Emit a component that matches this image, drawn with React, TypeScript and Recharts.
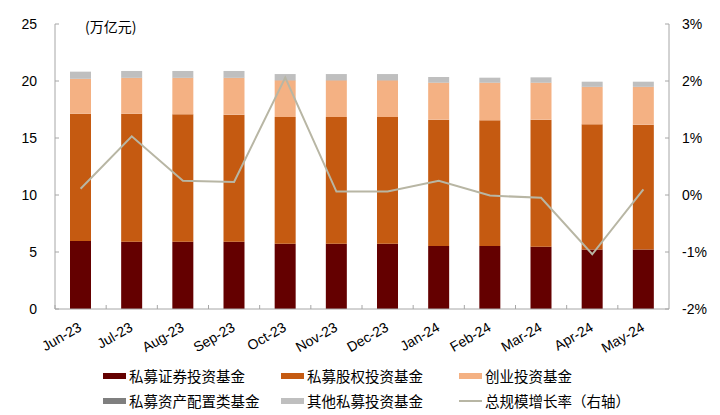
import React from "react";
import {
  ComposedChart,
  Bar,
  Line,
  XAxis,
  YAxis,
  Legend,
} from "recharts";

// ---------------------------------------------------------------------------
// Data (万亿元 / %)
// ---------------------------------------------------------------------------

const months = [
  "Jun-23", "Jul-23", "Aug-23", "Sep-23", "Oct-23", "Nov-23",
  "Dec-23", "Jan-24", "Feb-24", "Mar-24", "Apr-24", "May-24",
];

const securities = [5.96, 5.9, 5.9, 5.9, 5.73, 5.73, 5.73, 5.53, 5.53, 5.47, 5.23, 5.23];
const equity = [11.17, 11.23, 11.18, 11.15, 11.11, 11.11, 11.11, 11.08, 11.02, 11.14, 10.97, 10.94];
const venture = [3.05, 3.13, 3.18, 3.21, 3.22, 3.22, 3.22, 3.24, 3.3, 3.24, 3.27, 3.3];
const assetAlloc = [0.02, 0.02, 0.02, 0.02, 0.02, 0.02, 0.02, 0.02, 0.02, 0.02, 0.02, 0.02];
const other = [0.62, 0.6, 0.6, 0.6, 0.53, 0.53, 0.53, 0.48, 0.42, 0.45, 0.45, 0.45];
const growth = [0.11, 1.03, 0.25, 0.23, 2.06, 0.06, 0.06, 0.25, -0.01, -0.05, -1.04, 0.1];

const leftTicks = [0, 5, 10, 15, 20, 25];
const rightTicks = [-2, -1, 0, 1, 2, 3];

const data = months.map((m, i) => ({
  month: m,
  securities: securities[i],
  equity: equity[i],
  venture: venture[i],
  assetAlloc: assetAlloc[i],
  other: other[i],
  growth: growth[i],
}));

// ---------------------------------------------------------------------------
// Layout / styles
// ---------------------------------------------------------------------------

const W = 720;
const H = 415;
const LEFT_W = 55;
const RIGHT_W = 51;
const HALF_BAND = (W - LEFT_W - RIGHT_W) / months.length / 2;

const AXIS_COLOR = "#a6a6a6";
const LATIN = '"Liberation Sans", Arial, sans-serif';
const CJK = '"Noto Sans CJK SC", "Noto Sans", sans-serif';

const COLORS = {
  securities: "#640000",
  equity: "#c55a11",
  venture: "#f4b183",
  assetAlloc: "#7f7f7f",
  other: "#bfbfbf",
  growth: "#b8b6a4",
};

const legendItems = [
  { key: "securities", label: "私募证券投资基金", type: "rect" },
  { key: "equity", label: "私募股权投资基金", type: "rect" },
  { key: "venture", label: "创业投资基金", type: "rect" },
  { key: "assetAlloc", label: "私募资产配置类基金", type: "rect" },
  { key: "other", label: "其他私募投资基金", type: "rect" },
  { key: "growth", label: "总规模增长率（右轴）", type: "line" },
] as const;

// ---------------------------------------------------------------------------
// Custom pieces
// ---------------------------------------------------------------------------

function MonthTick(props: any) {
  const { x, y, payload } = props;
  const tx = x + 2;
  const ty = y + 21;
  return (
    <g>
      <line
        x1={x - HALF_BAND}
        x2={x - HALF_BAND}
        y1={y}
        y2={y - 4}
        stroke={AXIS_COLOR}
      />
      <text
        x={tx}
        y={ty}
        textAnchor="end"
        fontSize={14}
        fontFamily={LATIN}
        fill="#000"
        transform={`rotate(-30, ${tx}, ${ty})`}
      >
        {payload.value}
      </text>
    </g>
  );
}

function LegendBlock() {
  return (
    <div style={{ position: "relative", width: W, height: 56 }}>
      {legendItems.map((item, i) => {
        const col = i % 3;
        const row = Math.floor(i / 3);
        const left = 103 + col * 178;
        const cy = row === 0 ? 17 : 42;
        const color = COLORS[item.key];
        return (
          <div key={item.key}>
            <div
              style={{
                position: "absolute",
                left,
                top: item.type === "rect" ? cy - 3 : cy - 1,
                width: 23,
                height: item.type === "rect" ? 6 : 2,
                background: color,
              }}
            />
            <div
              style={{
                position: "absolute",
                left: left + 26,
                top: cy - 11,
                height: 22,
                lineHeight: "22px",
                fontSize: 14.5,
                fontFamily: CJK,
                color: "#000",
                whiteSpace: "nowrap",
              }}
            >
              {item.label}
            </div>
          </div>
        );
      })}
    </div>
  );
}

// ---------------------------------------------------------------------------
// Component
// ---------------------------------------------------------------------------

export default function App(): React.ReactElement {
  return (
    <div
      style={{
        position: "absolute",
        left: 0,
        top: 0,
        width: W,
        height: H,
        background: "#fff",
      }}
    >
      <ComposedChart
        width={W}
        height={H}
        data={data}
        margin={{ top: 24, right: 0, bottom: 0, left: 0 }}
        barCategoryGap={0}
      >
        <XAxis
          dataKey="month"
          height={50}
          interval={0}
          tickLine={false}
          tickSize={0}
          tickMargin={0}
          axisLine={{ stroke: AXIS_COLOR }}
          tick={<MonthTick />}
        />
        <YAxis
          yAxisId="left"
          width={LEFT_W}
          domain={[0, 25]}
          ticks={leftTicks}
          interval={0}
          tickSize={-4}
          tickMargin={22}
          axisLine={{ stroke: AXIS_COLOR }}
          tickLine={{ stroke: AXIS_COLOR }}
          tick={{ fill: "#000", fontSize: 14, fontFamily: LATIN }}
        />
        <YAxis
          yAxisId="right"
          orientation="right"
          width={RIGHT_W}
          domain={[-2, 3]}
          ticks={rightTicks}
          interval={0}
          tickSize={-4}
          tickMargin={17}
          tickFormatter={(v: number) => `${v}%`}
          axisLine={{ stroke: AXIS_COLOR }}
          tickLine={{ stroke: AXIS_COLOR }}
          tick={{ fill: "#000", fontSize: 14, fontFamily: LATIN, textAnchor: "start" }}
        />
        <Legend verticalAlign="bottom" height={56} content={() => <LegendBlock />} />
        <Bar yAxisId="left" dataKey="securities" stackId="s" barSize={21} fill={COLORS.securities} isAnimationActive={false} />
        <Bar yAxisId="left" dataKey="equity" stackId="s" barSize={21} fill={COLORS.equity} isAnimationActive={false} />
        <Bar yAxisId="left" dataKey="venture" stackId="s" barSize={21} fill={COLORS.venture} isAnimationActive={false} />
        <Bar yAxisId="left" dataKey="assetAlloc" stackId="s" barSize={21} fill={COLORS.assetAlloc} isAnimationActive={false} />
        <Bar yAxisId="left" dataKey="other" stackId="s" barSize={21} fill={COLORS.other} isAnimationActive={false} />
        <Line
          yAxisId="right"
          dataKey="growth"
          type="linear"
          stroke={COLORS.growth}
          strokeWidth={2}
          dot={false}
          activeDot={false}
          isAnimationActive={false}
        />
      </ComposedChart>
      <div
        style={{
          position: "absolute",
          left: 85,
          top: 16,
          fontSize: 14,
          lineHeight: "20px",
          fontFamily: CJK,
          color: "#000",
          whiteSpace: "nowrap",
        }}
      >
        (万亿元)
      </div>
    </div>
  );
}
